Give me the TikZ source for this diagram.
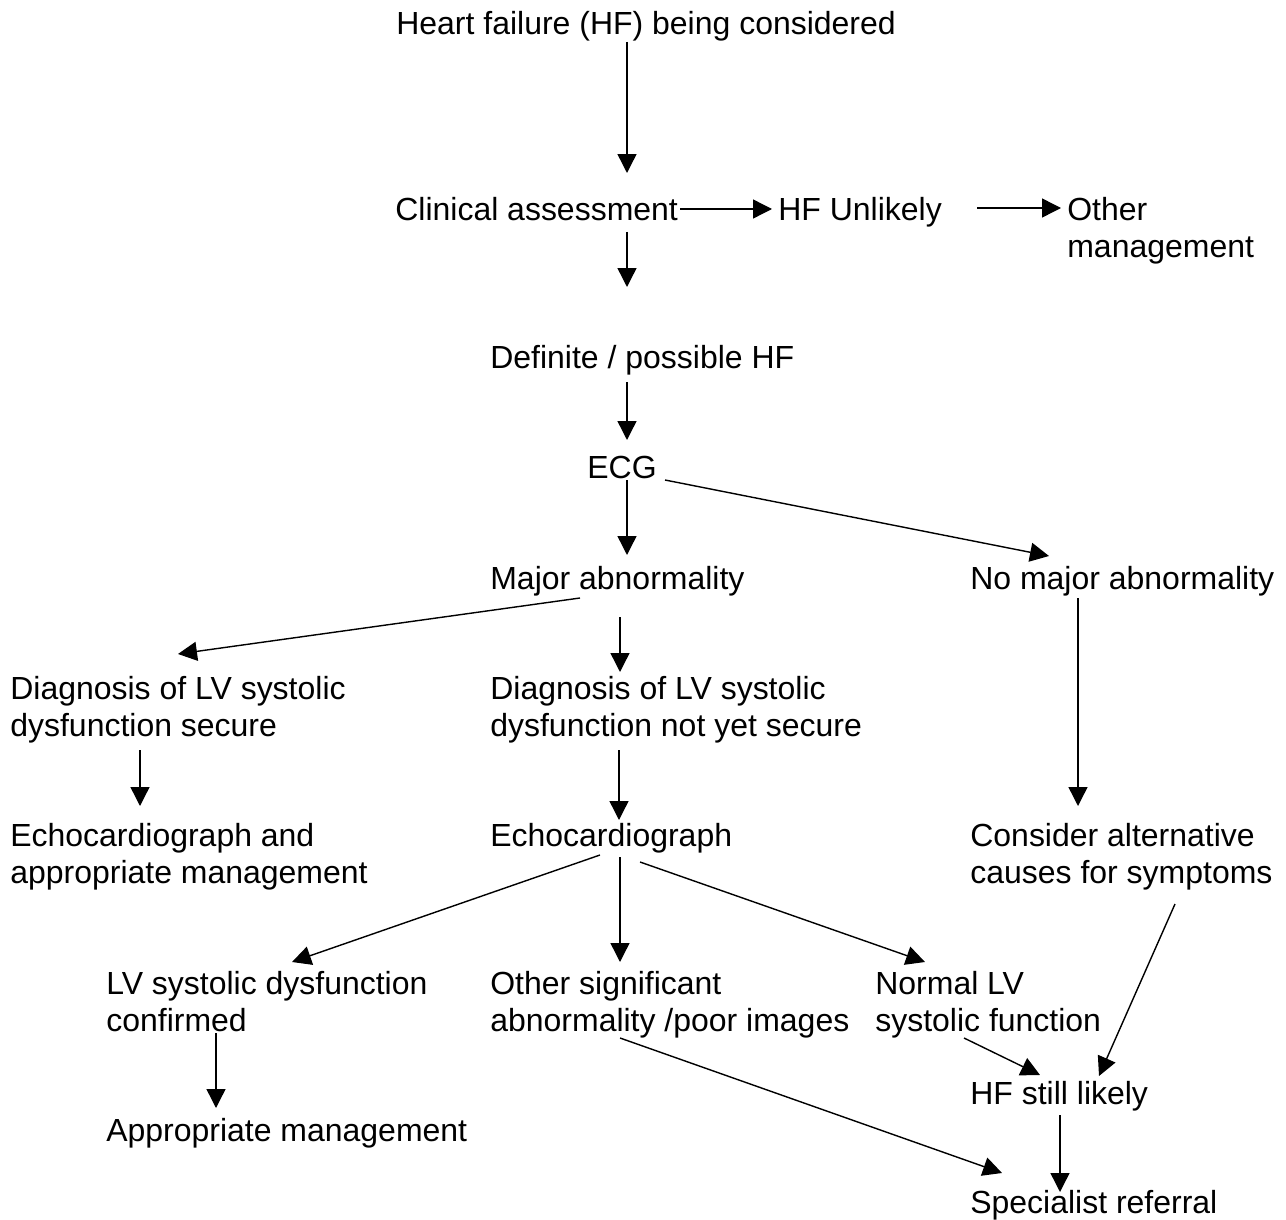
\documentclass[tikz,border=0pt]{standalone}
\usepackage{fontspec}
\setmainfont{Liberation Sans}
\usetikzlibrary{arrows.meta, calc}

\tikzset{
  txt/.style={anchor=base west, inner sep=0pt, align=left, font={\fontsize{18.2pt}{21.05pt}\selectfont}},
  arr/.style={line width=0.8pt, -{Triangle[length=0.38cm, width=0.38cm]}}
}

\begin{document}
\begin{tikzpicture}[x=0.02cm, y=-0.02cm]
        \useasboundingbox (0,0) rectangle (1286,1220);
        \node[txt] (hf) at (396,35) {Heart failure (HF) being considered};
        \node[txt] (clin) at (395,220) {Clinical assessment};
        \node[txt] (unlikely) at (778,220) {HF Unlikely};
        \node[txt] (other) at (1067,257) {Other\\management};
        \node[txt] (possible) at (490,368) {Definite / possible HF};
        \node[txt] (ecg) at (587,478) {ECG};
        \node[txt] (major) at (490,589) {Major abnormality};
        \node[txt] (nomajor) at (970,589) {No major abnormality};
        \node[txt] (secure) at (10,736) {Diagnosis of LV systolic\\dysfunction secure};
        \node[txt] (notsecure) at (490,736) {Diagnosis of LV systolic\\dysfunction not yet secure};
        \node[txt] (echoapp) at (10,883) {Echocardiograph and\\appropriate management};
        \node[txt] (echo) at (490,846) {Echocardiograph};
        \node[txt] (causes) at (970,883) {Consider alternative\\causes for symptoms};
        \node[txt] (confirmed) at (106,1031) {LV systolic dysfunction\\confirmed};
        \node[txt] (othersig) at (490,1031) {Other significant\\abnormality /poor images};
        \node[txt] (normal) at (875,1031) {Normal LV\\systolic function};
        \node[txt] (still) at (970,1104) {HF still likely};
        \node[txt] (approp) at (106,1141) {Appropriate management};
        \node[txt] (referral) at (970,1213) {Specialist referral};

        \draw[arr] ($(hf.base west)+(231,7)$) -- ($(clin.base west)+(232,-47)$);
        \draw[arr] ($(clin.base west)+(285,-11)$) -- ($(unlikely.base west)+(-6,-11)$);
        \draw[arr] ($(unlikely.base west)+(199,-12)$) -- ($(other.base west)+(-6,-49)$);
        \draw[arr] ($(clin.base west)+(232,12)$) -- ($(possible.base west)+(137,-81)$);
        \draw[arr] ($(possible.base west)+(137,14)$) -- ($(ecg.base west)+(40,-38)$);
        \draw[arr] ($(ecg.base west)+(40,2)$) -- ($(major.base west)+(137,-34)$);
        \draw[arr] ($(ecg.base west)+(78,2)$) -- ($(nomajor.base west)+(79,-33)$);
        \draw[arr] ($(major.base west)+(90,9)$) -- ($(secure.base west)+(168,-82)$);
        \draw[arr] ($(major.base west)+(130,28)$) -- ($(notsecure.base west)+(130,-64)$);
        \draw[arr] ($(secure.base west)+(130,14)$) -- ($(echoapp.base west)+(130,-77)$);
        \draw[arr] ($(notsecure.base west)+(129,14)$) -- ($(echo.base west)+(129,-26)$);
        \draw[arr] ($(nomajor.base west)+(108,9)$) -- ($(causes.base west)+(108,-77)$);
        \draw[arr] ($(echo.base west)+(110,9)$) -- ($(confirmed.base west)+(186,-69)$);
        \draw[arr] ($(echo.base west)+(130,11)$) -- ($(othersig.base west)+(130,-69)$);
        \draw[arr] ($(echo.base west)+(150,16)$) -- ($(normal.base west)+(50,-69)$);
        \draw[arr] ($(confirmed.base west)+(110,2)$) -- ($(approp.base west)+(110,-33)$);
        \draw[arr] ($(othersig.base west)+(130,7)$) -- ($(referral.base west)+(32,-40)$);
        \draw[arr] ($(normal.base west)+(89,7)$) -- ($(still.base west)+(70,-29)$);
        \draw[arr] ($(causes.base west)+(205,21)$) -- ($(still.base west)+(129,-28)$);
        \draw[arr] ($(still.base west)+(90,11)$) -- ($(referral.base west)+(90,-21)$);
\end{tikzpicture}
\end{document}
